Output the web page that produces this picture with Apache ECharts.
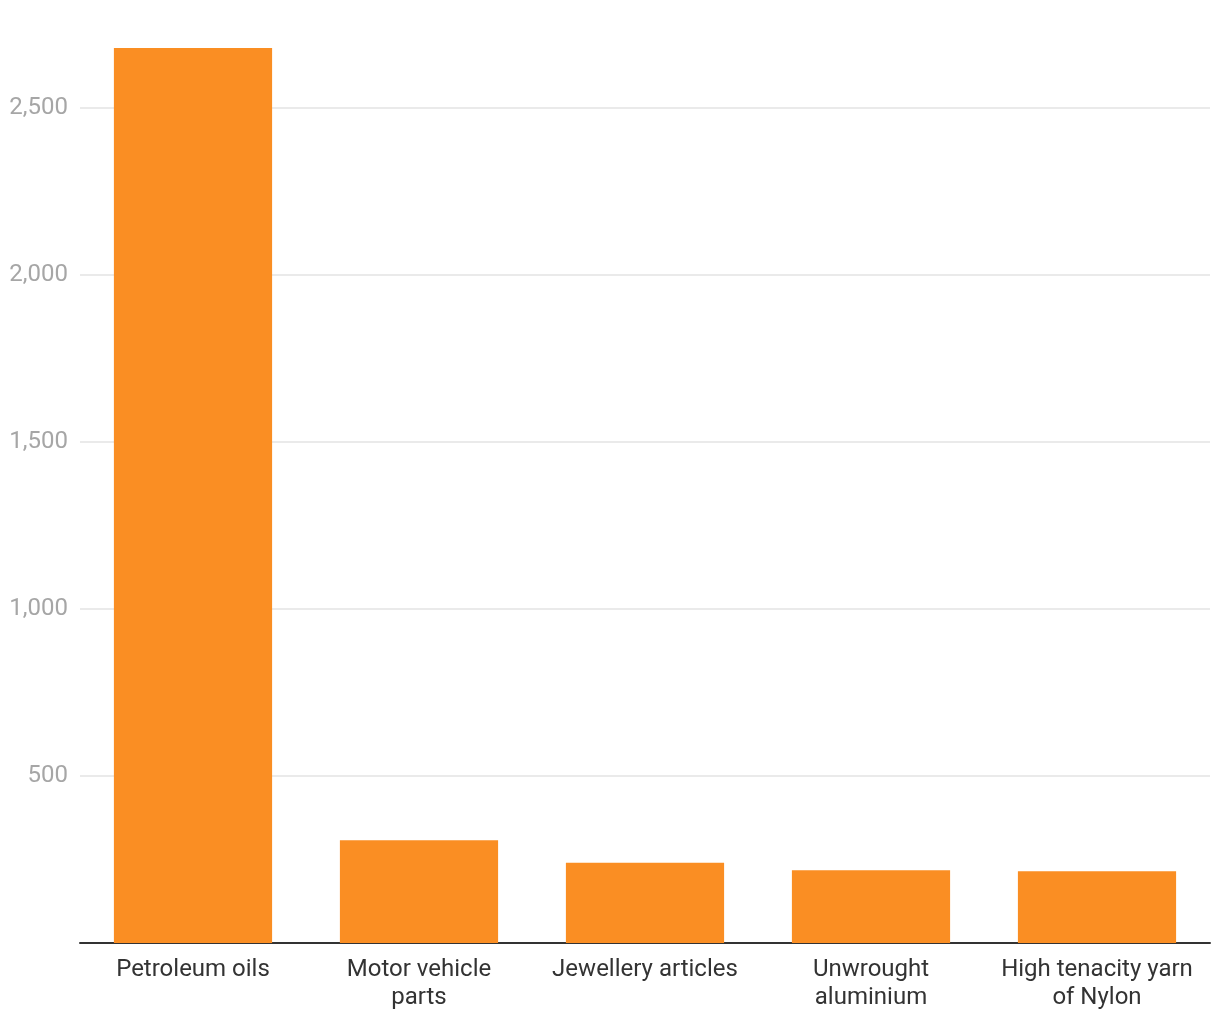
<!DOCTYPE html>
<html><head><meta charset="utf-8">
<script src="https://cdn.jsdelivr.net/npm/echarts@6/dist/echarts.min.js"></script>
<style>html,body{margin:0;padding:0;background:#fff}#c{width:1220px;height:1020px}</style>
</head><body><div id="c"></div>
<script>
const categories = ["Petroleum oils", "Motor vehicle\nparts", "Jewellery articles", "Unwrought\naluminium", "High tenacity yarn\nof Nylon"];
const values = [2680, 308, 240, 218, 215];
const yTicks = [0, 500, 1000, 1500, 2000, 2500];

const chart = echarts.init(document.getElementById('c'));
chart.setOption({
  animation: false,
  grid: { left: 80, right: 10, top: 48, bottom: 77, containLabel: false },
  xAxis: {
    type: 'category', data: categories,
    axisLine: { lineStyle: { color: '#333', width: 2 } },
    axisTick: { show: false },
    axisLabel: { color: '#333', fontFamily: 'Roboto', fontSize: 24, lineHeight: 28, margin: 13, interval: 0 }
  },
  yAxis: {
    type: 'value', min: 0, max: 2680, interval: 500,
    axisLine: { show: false }, axisTick: { show: false },
    axisLabel: {
      color: '#a6a6a6', fontFamily: 'Roboto', fontSize: 24, margin: 12, showMaxLabel: false,
      formatter: v => yTicks.includes(v) && v !== 0 ? v.toLocaleString('en-US') : ''
    },
    splitLine: { lineStyle: { color: '#e3e3e3', width: 1.5 }, showMaxLine: false, showMinLine: false }
  },
  series: [{
    type: 'bar', data: values, barCategoryGap: '30%',
    itemStyle: { color: '#fa8e23' }
  }]
});
</script></body></html>
